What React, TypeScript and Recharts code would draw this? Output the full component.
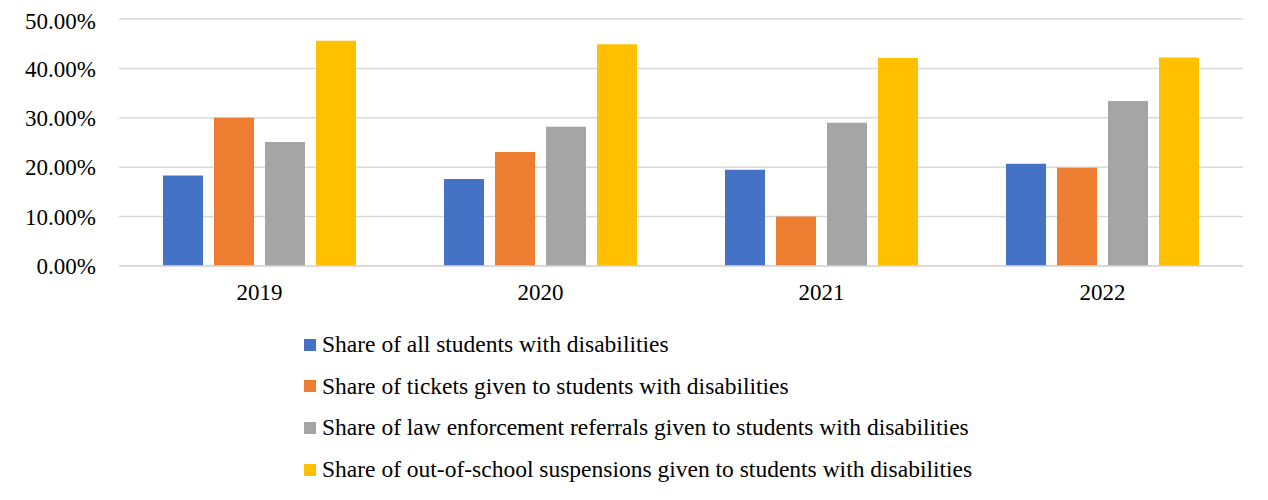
import React from 'react';
import { BarChart, Bar, XAxis, YAxis, CartesianGrid, Legend } from 'recharts';

const years = ['2019', '2020', '2021', '2022'];
const allStudents = [0.183, 0.176, 0.195, 0.207];
const tickets = [0.300, 0.231, 0.100, 0.199];
const referrals = [0.251, 0.282, 0.290, 0.334];
const suspensions = [0.456, 0.449, 0.421, 0.422];
const yTicks = [0, 0.1, 0.2, 0.3, 0.4, 0.5];

const series = [
  { key: 'all', name: 'Share of all students with disabilities', color: '#4472C4' },
  { key: 'tickets', name: 'Share of tickets given to students with disabilities', color: '#ED7D31' },
  { key: 'referrals', name: 'Share of law enforcement referrals given to students with disabilities', color: '#A5A5A5' },
  { key: 'suspensions', name: 'Share of out-of-school suspensions given to students with disabilities', color: '#FFC000' },
];

const data = years.map((year, i) => ({
  year,
  all: allStudents[i],
  tickets: tickets[i],
  referrals: referrals[i],
  suspensions: suspensions[i],
}));

const font = "'Liberation Serif', 'DejaVu Serif', serif";

const seriesOrder = (name: string) => series.findIndex((s) => s.name === name);

const renderLegend = (props: any) => {
  const items = [...(props.payload || [])].sort((a: any, b: any) => seriesOrder(a.value) - seriesOrder(b.value));
  return (
    <div style={{ fontFamily: font, fontSize: 23.5, color: '#000' }}>
      {items.map((entry: any) => (
        <div key={entry.value} style={{ display: 'flex', alignItems: 'center', height: 41.6, whiteSpace: 'nowrap' }}>
          <span style={{ display: 'inline-block', width: 12, height: 12, background: entry.color, marginRight: 6 }} />
          <span>{entry.value}</span>
        </div>
      ))}
    </div>
  );
};

const App: React.FC = () => {
  return (
    <div style={{ width: 1260, height: 492, borderLeft: '2px solid #d9d9d9', marginLeft: -2, fontFamily: font }}>
      <BarChart
        width={1260}
        height={492}
        data={data}
        margin={{ top: 11, right: 25, left: 0, bottom: 204 }}
        barSize={40}
        barGap={11}
      >
        <CartesianGrid vertical={false} stroke="#d9d9d9" strokeWidth={1.5} />
        <XAxis
          dataKey="year"
          height={30}
          axisLine={{ stroke: '#d9d9d9', strokeWidth: 1.5 }}
          tickLine={false}
          tickSize={0}
          tickMargin={18}
          tick={{ fill: '#000', fontSize: 23, fontFamily: font }}
        />
        <YAxis
          width={111}
          domain={[0, 0.5]}
          ticks={yTicks}
          axisLine={false}
          tickLine={false}
          tickSize={0}
          tickMargin={23}
          tickFormatter={(v: number) => (v * 100).toFixed(2) + '%'}
          tick={{ fill: '#000', fontSize: 23, fontFamily: font }}
        />
        <Legend
          layout="vertical"
          align="center"
          verticalAlign="middle"
          content={renderLegend}
          wrapperStyle={{ position: 'absolute', left: 296, top: 316, width: 'auto' }}
        />
        {series.map((s) => (
          <Bar key={s.key} dataKey={s.key} name={s.name} fill={s.color} isAnimationActive={false} />
        ))}
      </BarChart>
    </div>
  );
};

export default App;
